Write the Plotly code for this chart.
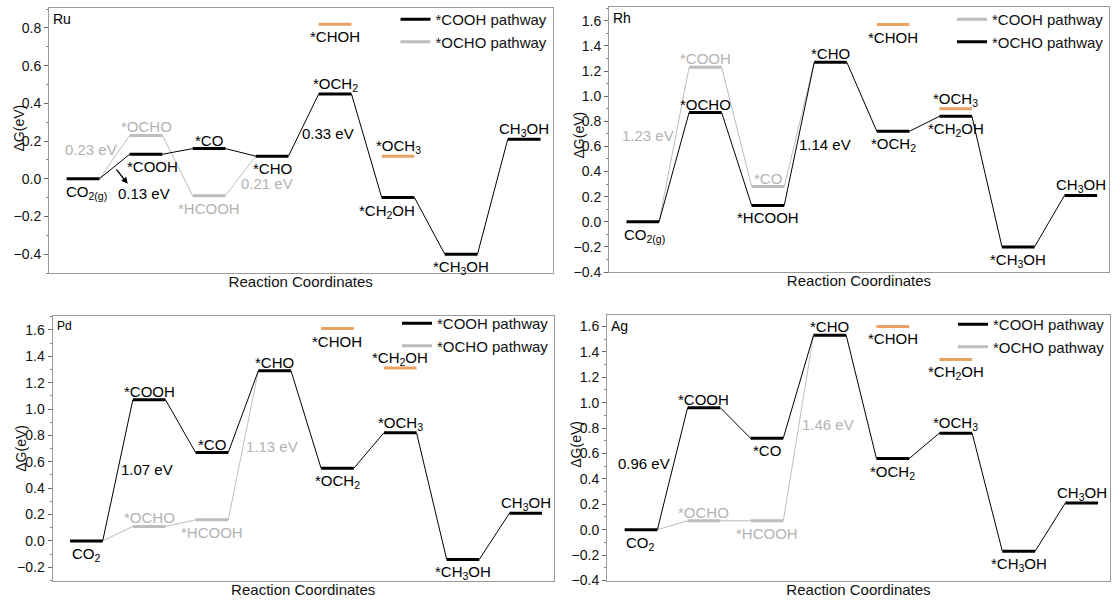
import plotly.graph_objects as go

# ---------------- data ----------------
steps = [0, 1, 2, 3, 4, 5, 6, 7]
alt_steps = [1, 2]          # positions of the alternative-pathway intermediates
side_steps = [4, 5]         # positions of the orange (unfavourable) intermediates

# Ru
ru_main_name = "*COOH pathway"
ru_main_vals = [0.00, 0.13, 0.16, 0.12, 0.45, -0.10, -0.40, 0.21]
ru_main_labels = ["CO<sub>2(g)</sub>", "*COOH", "*CO", "*CHO", "*OCH<sub>2</sub>",
                  "*CH<sub>2</sub>OH", "*CH<sub>3</sub>OH", "CH<sub>3</sub>OH"]
ru_alt_name = "*OCHO pathway"
ru_alt_vals = [0.23, -0.09]
ru_alt_labels = ["*OCHO", "*HCOOH"]
ru_side_vals = [0.82, 0.12]
ru_side_labels = ["*CHOH", "*OCH<sub>3</sub>"]
ru_barrier_texts = ["0.23 eV", "0.13 eV", "0.21 eV", "0.33 eV"]

# Rh
rh_main_name = "*OCHO pathway"
rh_main_vals = [0.00, 0.87, 0.13, 1.27, 0.72, 0.84, -0.20, 0.21]
rh_main_labels = ["CO<sub>2(g)</sub>", "*OCHO", "*HCOOH", "*CHO", "*OCH<sub>2</sub>",
                  "*CH<sub>2</sub>OH", "*CH<sub>3</sub>OH", "CH<sub>3</sub>OH"]
rh_alt_name = "*COOH pathway"
rh_alt_vals = [1.23, 0.28]
rh_alt_labels = ["*COOH", "*CO"]
rh_side_vals = [1.57, 0.90]
rh_side_labels = ["*CHOH", "*OCH<sub>3</sub>"]
rh_barrier_texts = ["1.23 eV", "1.14 eV"]

# Pd
pd_main_name = "*COOH pathway"
pd_main_vals = [0.00, 1.07, 0.67, 1.29, 0.55, 0.82, -0.14, 0.21]
pd_main_labels = ["CO<sub>2</sub>", "*COOH", "*CO", "*CHO", "*OCH<sub>2</sub>",
                  "*OCH<sub>3</sub>", "*CH<sub>3</sub>OH", "CH<sub>3</sub>OH"]
pd_alt_name = "*OCHO pathway"
pd_alt_vals = [0.11, 0.16]
pd_alt_labels = ["*OCHO", "*HCOOH"]
pd_side_vals = [1.61, 1.31]
pd_side_labels = ["*CHOH", "*CH<sub>2</sub>OH"]
pd_barrier_texts = ["1.07 eV", "1.13 eV"]

# Ag
ag_main_name = "*COOH pathway"
ag_main_vals = [0.00, 0.96, 0.72, 1.53, 0.56, 0.76, -0.17, 0.21]
ag_main_labels = ["CO<sub>2</sub>", "*COOH", "*CO", "*CHO", "*OCH<sub>2</sub>",
                  "*OCH<sub>3</sub>", "*CH<sub>3</sub>OH", "CH<sub>3</sub>OH"]
ag_alt_name = "*OCHO pathway"
ag_alt_vals = [0.07, 0.07]
ag_alt_labels = ["*OCHO", "*HCOOH"]
ag_side_vals = [1.60, 1.34]
ag_side_labels = ["*CHOH", "*CH<sub>2</sub>OH"]
ag_barrier_texts = ["0.96 eV", "1.46 eV"]

# ---------------- styling / layout ----------------
W, H = 1115, 600
FONT = "Liberation Sans, Arial, sans-serif"
BLACK = "#000000"
GRAY = "#bdbdbd"
GRAY_TXT = "#b3b3b3"
ORANGE = "#e8a264"
FRAME = "#9a9a9a"
HW = 0.26  # half width of an energy level (in step units)

panels = [
    dict(name="Ru", name_size=14, ax="", main=(ru_main_name, ru_main_vals, ru_main_labels),
         alt=(ru_alt_name, ru_alt_vals, ru_alt_labels),
         side=(ru_side_vals, ru_side_labels),
         main_place="bbabab" + "ba", alt_place="ab", side_place="ba",
         main_dx=[3, 6, 0, 0, 0, -11, 0, 0],
         barriers=[(ru_barrier_texts[0], 0.12, 0.155, GRAY_TXT),
                   (ru_barrier_texts[1], 0.97, -0.08, BLACK),
                   (ru_barrier_texts[2], 2.92, -0.027, GRAY_TXT),
                   (ru_barrier_texts[3], 3.89, 0.24, BLACK)],
         arrow=(0.71, -0.027, 0.51, 0.058),
         yrange=[-0.5, 0.906], xpx=(49, 552.5), ypx=(8, 273), legend="legend",
         leg_top=3, ytitle_dy=12),
    dict(name="Rh", name_size=14, ax="2", main=(rh_main_name, rh_main_vals, rh_main_labels),
         alt=(rh_alt_name, rh_alt_vals, rh_alt_labels),
         side=(rh_side_vals, rh_side_labels),
         main_place="bababbba", alt_place="aa", side_place="ba",
         main_dx=[2, 0, 0, 0, 0, 0, 0, 0],
         barriers=[(rh_barrier_texts[0], 0.09, 0.69, GRAY_TXT),
                   (rh_barrier_texts[1], 2.91, 0.615, BLACK)],
         arrow=None,
         yrange=[-0.4, 1.71], xpx=(609, 1109), ypx=(7, 272), legend="legend2",
         leg_top=3, ytitle_dy=4),
    dict(name="Pd", name_size=12, ax="3", main=(pd_main_name, pd_main_vals, pd_main_labels),
         alt=(pd_alt_name, pd_alt_vals, pd_alt_labels),
         side=(pd_side_vals, pd_side_labels),
         main_place="baaababa", alt_place="ab", side_place="ba",
         main_dx=[0, 0, 0, 0, 0, 0, 0, 0],
         barriers=[(pd_barrier_texts[0], 0.97, 0.54, BLACK),
                   (pd_barrier_texts[1], 2.96, 0.716, GRAY_TXT)],
         arrow=None,
         yrange=[-0.3, 1.705], xpx=(52.5, 554), ypx=(316, 580.5), legend="legend3",
         leg_top=307, ytitle_dy=0),
    dict(name="Ag", name_size=14, ax="4", main=(ag_main_name, ag_main_vals, ag_main_labels),
         alt=(ag_alt_name, ag_alt_vals, ag_alt_labels),
         side=(ag_side_vals, ag_side_labels),
         main_place="babababa", alt_place="ab", side_place="bb",
         main_dx=[0, 0, 0, 0, 0, 0, 0, 0],
         barriers=[(ag_barrier_texts[0], 0.05, 0.52, BLACK),
                   (ag_barrier_texts[1], 2.97, 0.83, GRAY_TXT)],
         arrow=None,
         yrange=[-0.4, 1.69], xpx=(607, 1110), ypx=(315, 580.5), legend="legend4",
         leg_top=308, ytitle_dy=3),
]


def levels_xy(pos, vals):
    xs, ys = [], []
    for p, v in zip(pos, vals):
        xs += [p - HW, p + HW, None]
        ys += [v, v, None]
    return xs, ys


def links_xy(pos, vals):
    xs, ys = [], []
    for i in range(len(pos) - 1):
        xs += [pos[i] + HW, pos[i + 1] - HW, None]
        ys += [vals[i], vals[i + 1], None]
    return xs, ys


fig = go.Figure()
annotations = []
layout_axes = {}

for P in panels:
    xa, ya = "x" + P["ax"], "y" + P["ax"]
    mname, mvals, mlabels = P["main"]
    aname, avals, alabels = P["alt"]
    svals, slabels = P["side"]
    main_color, alt_color = BLACK, GRAY
    rank = {"*COOH pathway": 1, "*OCHO pathway": 2}

    # alternative pathway connectors (drawn first, below)
    apos = [steps[0]] + alt_steps + [steps[3]]
    aval = [mvals[0]] + avals + [mvals[3]]
    lx, ly = links_xy(apos, aval)
    fig.add_trace(go.Scatter(x=lx, y=ly, mode="lines", xaxis=xa, yaxis=ya,
                             line=dict(color=alt_color, width=1), showlegend=False,
                             hoverinfo="skip"))
    # main pathway connectors
    lx, ly = links_xy(steps, mvals)
    fig.add_trace(go.Scatter(x=lx, y=ly, mode="lines", xaxis=xa, yaxis=ya,
                             line=dict(color=main_color, width=1), showlegend=False,
                             hoverinfo="skip"))
    # alt levels
    gx, gy = levels_xy(alt_steps, avals)
    fig.add_trace(go.Scatter(x=gx, y=gy, mode="lines", xaxis=xa, yaxis=ya,
                             line=dict(color=alt_color, width=3), name=aname,
                             legend=P["legend"], legendrank=rank[aname]))
    # main levels
    gx, gy = levels_xy(steps, mvals)
    fig.add_trace(go.Scatter(x=gx, y=gy, mode="lines", xaxis=xa, yaxis=ya,
                             line=dict(color=main_color, width=3), name=mname,
                             legend=P["legend"], legendrank=rank[mname]))
    # side (orange) levels
    gx, gy = levels_xy(side_steps, svals)
    fig.add_trace(go.Scatter(x=gx, y=gy, mode="lines", xaxis=xa, yaxis=ya,
                             line=dict(color=ORANGE, width=3), showlegend=False,
                             hoverinfo="skip"))

    def lab(x, y, text, place, color, dx=0):
        above = place == "a"
        annotations.append(dict(
            x=x, y=y, xref=xa, yref=ya, text=text, showarrow=False,
            xanchor="center", yanchor="bottom" if above else "top",
            yshift=-1 if above else -3, xshift=dx, borderpad=0,
            font=dict(family=FONT, size=15, color=color)))

    for p, v, t, pl, dx in zip(steps, mvals, mlabels, P["main_place"], P["main_dx"]):
        lab(p, v, t, pl, BLACK, dx)
    for p, v, t, pl in zip(alt_steps, avals, alabels, P["alt_place"]):
        lab(p, v, t, pl, GRAY_TXT)
    for p, v, t, pl in zip(side_steps, svals, slabels, P["side_place"]):
        lab(p, v, t, pl, BLACK)

    for t, x, y, c in P["barriers"]:
        annotations.append(dict(x=x, y=y, xref=xa, yref=ya, text=t, showarrow=False,
                                font=dict(family=FONT, size=15, color=c)))
    if P["arrow"]:
        hx, hy, tx, ty = P["arrow"]
        annotations.append(dict(x=hx, y=hy, ax=tx, ay=ty, xref=xa, yref=ya,
                                axref=xa, ayref=ya, text="", showarrow=True,
                                arrowhead=2, arrowsize=1, arrowwidth=1.3,
                                arrowcolor=BLACK))
    # panel name
    annotations.append(dict(x=0, y=1, xref=xa + " domain", yref=ya + " domain",
                            text=P["name"], showarrow=False, xanchor="left",
                            yanchor="top", xshift=2, yshift=-1,
                            font=dict(family=FONT, size=P["name_size"], color=BLACK)))
    # y-axis title (placed close to the tick labels as in the reference)
    annotations.append(dict(x=0, y=0.5, xref=xa + " domain", yref=ya + " domain",
                            text="ΔG(eV)", showarrow=False, textangle=-90,
                            xanchor="center", yanchor="middle", xshift=-31,
                            yshift=P["ytitle_dy"],
                            font=dict(family=FONT, size=14, color="#111")))

    x0, x1 = P["xpx"]
    y0, y1 = P["ypx"]
    key = P["ax"]
    layout_axes["xaxis" + key] = dict(
        domain=[x0 / W, x1 / W], range=[-0.54, 7.45], anchor=ya,
        showline=True, mirror=True, linecolor=FRAME, linewidth=1,
        showgrid=False, zeroline=False, ticks="", showticklabels=False,
        automargin=False,
        title=dict(text="Reaction Coordinates", standoff=3,
                   font=dict(family=FONT, size=15, color="#111")))
    layout_axes["yaxis" + key] = dict(
        domain=[1 - y1 / H, 1 - y0 / H], range=P["yrange"], anchor=xa,
        showline=True, mirror=True, linecolor=FRAME, linewidth=1,
        showgrid=False, zeroline=False, ticks="outside", ticklen=4,
        tickcolor="#666", tick0=0, dtick=0.2, tickformat=".1f",
        minor=dict(ticks="outside", ticklen=2, dtick=0.1, tickcolor="#888"),
        tickfont=dict(family=FONT, size=14, color="#111"), automargin=False)
    layout_axes[P["legend"]] = dict(
        x=x1 / W, xanchor="right", y=1 - P["leg_top"] / H, yanchor="top",
        bgcolor="rgba(0,0,0,0)", tracegroupgap=0, itemwidth=30,
        font=dict(family=FONT, size=15, color="#111"))

fig.update_layout(
    width=W, height=H, margin=dict(l=0, r=0, t=0, b=0),
    template="none", paper_bgcolor="white", plot_bgcolor="white",
    annotations=annotations, showlegend=True, hovermode=False,
    **layout_axes)

fig.write_html("out.html")
